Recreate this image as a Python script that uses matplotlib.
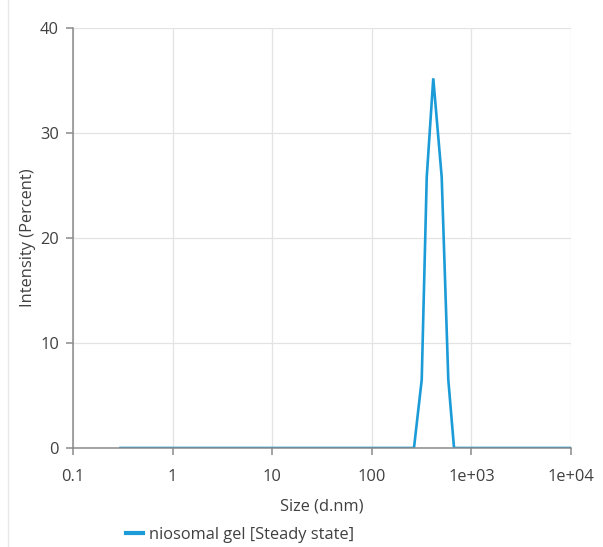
import numpy as np
import matplotlib.pyplot as plt
from matplotlib.lines import Line2D

plt.rcParams['font.family'] = ['Open Sans', 'DejaVu Sans']

# size distribution (d.nm) vs intensity (%)
size = [0.3, 1, 10, 100, 265, 317, 356, 414, 503, 586, 669, 1000, 10000]
intensity = [0, 0, 0, 0, 0, 6.5, 25.8, 35.2, 25.8, 6.5, 0, 0, 0]

xticks = [0.1, 1, 10, 100, 1000, 10000]
xticklabels = ["0.1", "1", "10", "100", "1e+03", "1e+04"]
yticks = [0, 10, 20, 30, 40]

txt = "#404040"
fs = 11.8
fig = plt.figure(figsize=(6.03, 5.47), dpi=100)
ax = fig.add_axes([0.121, 0.181, 0.826, 0.768])

ax.plot(size, intensity, color="#1b9bd7", lw=1.9, solid_joinstyle="miter")
ax.set_xscale("log")
ax.set_xlim(0.1, 10000)
ax.set_ylim(0, 40)
ax.set_xticks(xticks)
ax.set_xticklabels(xticklabels)
ax.minorticks_off()
ax.set_yticks(yticks)

ax.grid(True, color="#e3e3e3", lw=0.9)
ax.set_axisbelow(True)
for s in ["top", "right"]:
    ax.spines[s].set_visible(False)
for s in ["left", "bottom"]:
    ax.spines[s].set_color("#8a8a8a")
    ax.spines[s].set_linewidth(1.1)
ax.tick_params(colors="#8a8a8a", labelcolor=txt, labelsize=fs, length=5, width=1.1)
ax.tick_params(axis="x", pad=10)
ax.tick_params(axis="y", pad=5)

ax.set_xlabel("Size (d.nm)", color=txt, fontsize=fs, labelpad=10)
ax.set_ylabel("Intensity (Percent)", color=txt, fontsize=fs, labelpad=3)

handle = Line2D([], [], color="#1b9bd7", lw=3)
fig.legend([handle], ["niosomal gel [Steady state]"], loc="center left",
           bbox_to_anchor=(0.185, 0.022), frameon=False, fontsize=fs,
           handlelength=1.0, handletextpad=0.4, labelcolor=txt)

fig.add_artist(Line2D([0.014, 0.014], [0.0, 1.0], color="#e8e8e8", lw=1))

fig.savefig("out.png", dpi=100)
